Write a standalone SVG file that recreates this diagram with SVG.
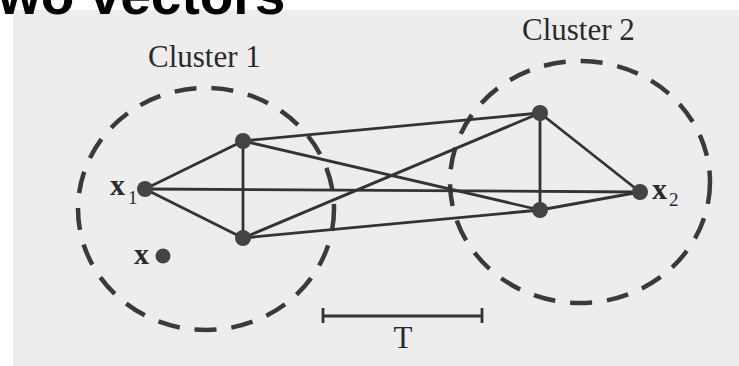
<svg xmlns="http://www.w3.org/2000/svg" width="739" height="366" viewBox="0 0 739 366">
<style>
.cl{fill:none;stroke:#3a3a3a;stroke-width:4.5;stroke-dasharray:22 15}
.e{stroke:#333;stroke-width:2.8;fill:none}
.n{fill:#444}
.lab{font-family:"Liberation Serif",serif;fill:#2a2a2a}
.xb{font-family:"Liberation Serif",serif;font-weight:bold;font-size:30px;fill:#2a2a2a}
.sub{font-family:"Liberation Serif",serif;font-size:19px;fill:#2a2a2a}
</style>
<rect x="0" y="0" width="739" height="366" fill="#ffffff"/>
<rect x="13" y="10" width="726" height="356" fill="#ededed"/>
<text x="-2" y="14" font-family="Liberation Sans,Arial,sans-serif" font-weight="bold" font-size="55" fill="#000">wo vectors</text>
<g id="cluster1">
<ellipse class="cl" cx="206" cy="209" rx="128" ry="121"/>
<text class="lab" x="148" y="67" font-size="31">Cluster 1</text>
</g>
<g id="cluster2">
<ellipse class="cl" cx="580" cy="182" rx="130" ry="121"/>
<text class="lab" x="522" y="40" font-size="31">Cluster 2</text>
</g>
<g id="connectors">
<line class="e" x1="145" y1="189" x2="243" y2="141"/>
<line class="e" x1="145" y1="189" x2="243" y2="238"/>
<line class="e" x1="145" y1="189" x2="640" y2="192"/>
<line class="e" x1="243" y1="141" x2="243" y2="238"/>
<line class="e" x1="243" y1="141" x2="540" y2="113"/>
<line class="e" x1="243" y1="141" x2="540" y2="210"/>
<line class="e" x1="243" y1="238" x2="540" y2="113"/>
<line class="e" x1="243" y1="238" x2="540" y2="210"/>
<line class="e" x1="540" y1="113" x2="540" y2="210"/>
<line class="e" x1="540" y1="113" x2="640" y2="192"/>
<line class="e" x1="540" y1="210" x2="640" y2="192"/>
</g>
<g id="x1">
<circle class="n" cx="145" cy="189" r="8"/>
<text class="xb" x="110" y="195">x</text>
<text class="sub" x="128" y="204">1</text>
</g>
<g id="nodeA"><circle class="n" cx="243" cy="141" r="8"/></g>
<g id="nodeB"><circle class="n" cx="243" cy="238" r="8"/></g>
<g id="nodeC"><circle class="n" cx="540" cy="113" r="8"/></g>
<g id="nodeD"><circle class="n" cx="540" cy="210" r="8"/></g>
<g id="x2">
<circle class="n" cx="640" cy="192" r="8"/>
<text class="xb" x="652" y="199">x</text>
<text class="sub" x="669" y="206">2</text>
</g>
<g id="xpoint">
<circle class="n" cx="163" cy="256" r="7.5"/>
<text class="xb" x="134" y="264">x</text>
</g>
<g id="scale">
<line class="e" x1="323" y1="316" x2="482" y2="316"/>
<line class="e" x1="323" y1="308" x2="323" y2="323"/>
<line class="e" x1="482" y1="308" x2="482" y2="323"/>
<text class="lab" x="403" y="348" font-size="31" text-anchor="middle">T</text>
</g>
</svg>
